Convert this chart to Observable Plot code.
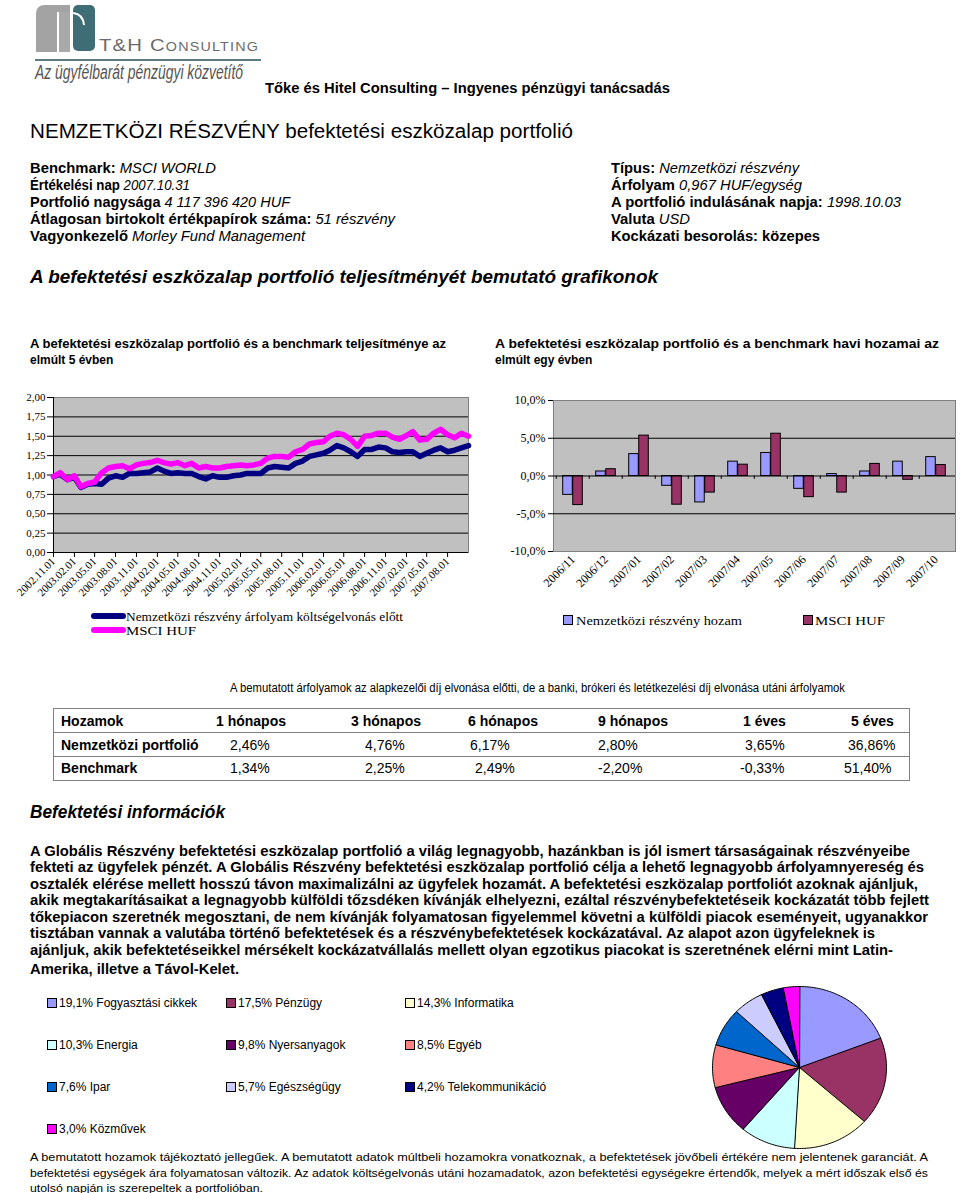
<!DOCTYPE html>
<html><head><meta charset="utf-8">
<script src="https://cdn.jsdelivr.net/npm/d3@7"></script>
<script src="https://cdn.jsdelivr.net/npm/@observablehq/plot@0.6"></script>
<style>
html,body{margin:0;padding:0;background:#fff;}
#page{position:relative;width:960px;height:1193px;overflow:hidden;font-family:"Liberation Sans",Arial,sans-serif;color:#000;}
.t{position:absolute;white-space:nowrap;line-height:1;transform-origin:0 50%;}
.serif{font-family:"Liberation Serif","Times New Roman",serif;}
.abs{position:absolute;}
</style></head><body><div id="page">
<svg class="abs" style="left:0;top:0" width="270" height="90">
  <path d="M36,52 V14 Q36,5 45,5 H57 V52 Z" fill="#a3a3a3"/>
  <rect x="59" y="5" width="11" height="47" fill="#a9a9a9"/>
  <rect x="45" y="5" width="25" height="7" fill="#a3a3a3"/>
  <rect x="73" y="5" width="22" height="46" rx="5" fill="#3f6d75"/>
  <path d="M73,13 Q83,14 84,25" stroke="#fff" stroke-width="2" fill="none"/>
  <line x1="35" y1="60" x2="261" y2="60" stroke="#5d7c82" stroke-width="2"/>
</svg>
</div>
<script>
// ---------- DATA ----------
const lineStart = "2002-11-01", lineEnd = "2007-11-01";
const portfolioIndex = [0.98,1.01,0.94,0.97,0.84,0.88,0.89,0.88,0.96,0.99,0.97,1.02,1.02,1.03,1.04,1.09,1.05,1.02,1.03,1.02,1.02,0.98,0.95,0.99,0.97,0.97,0.99,1.00,1.02,1.02,1.02,1.09,1.11,1.10,1.09,1.15,1.18,1.24,1.26,1.28,1.32,1.38,1.35,1.30,1.24,1.33,1.33,1.36,1.35,1.30,1.29,1.30,1.30,1.24,1.28,1.32,1.35,1.30,1.32,1.35,1.38];
const msciIndex = [0.98,1.03,0.94,0.99,0.85,0.89,0.91,1.03,1.09,1.11,1.12,1.08,1.13,1.15,1.16,1.19,1.16,1.14,1.16,1.12,1.15,1.09,1.11,1.09,1.09,1.11,1.12,1.13,1.12,1.13,1.15,1.22,1.24,1.24,1.23,1.30,1.33,1.40,1.42,1.43,1.50,1.54,1.52,1.46,1.37,1.50,1.51,1.54,1.54,1.49,1.46,1.51,1.56,1.45,1.46,1.54,1.59,1.52,1.48,1.54,1.50];
const lineTickLabels = ["2002.11.01","2003.02.01","2003.05.01","2003.08.01","2003.11.01","2004.02.01","2004.05.01","2004.08.01","2004.11.01","2005.02.01","2005.05.01","2005.08.01","2005.11.01","2006.02.01","2006.05.01","2006.08.01","2006.11.01","2007.02.01","2007.05.01","2007.08.01"];
const lineYTicks = [0,0.25,0.5,0.75,1,1.25,1.5,1.75,2];
const lineSeriesNames = ["Nemzetközi részvény árfolyam költségelvonás előtt","MSCI HUF"];

const barMonths = ["2006/11","2006/12","2007/01","2007/02","2007/03","2007/04","2007/05","2007/06","2007/07","2007/08","2007/09","2007/10"];
const barPortfolio = [-2.5,0.6,2.9,-1.3,-3.5,1.9,3.05,-1.7,0.25,0.6,1.9,2.5];
const barMsci = [-3.85,0.9,5.35,-3.8,-2.2,1.5,5.6,-2.8,-2.2,1.6,-0.5,1.45];
const barYTicks = [-10,-5,0,5,10];
const barSeriesNames = ["Nemzetközi részvény hozam","MSCI HUF"];

const sectorNames = ["Fogyasztási cikkek","Pénzügy","Informatika","Energia","Nyersanyagok","Egyéb","Ipar","Egészségügy","Telekommunikáció","Közművek"];
const sectorShares = [19.1,17.5,14.3,10.3,9.8,8.5,7.6,5.7,4.2,3.0];
const sectorColors = ["#9999FF","#993366","#FFFFCC","#CCFFFF","#660066","#FF8080","#0066CC","#CCCCFF","#000080","#FF00FF"];

const tableHeader = ["Hozamok","1 hónapos","3 hónapos","6 hónapos","9 hónapos","1 éves","5 éves"];
const tablePortfolio = ["Nemzetközi portfolió","2,46%","4,76%","6,17%","2,80%","3,65%","36,86%"];
const tableBenchmark = ["Benchmark","1,34%","2,25%","2,49%","-2,20%","-0,33%","51,40%"];

// ---------- LAYOUT HELPERS ----------
const page = document.getElementById("page");
function T(x, yc, w, fs, html, cls = "", extra = "") {
  const el = document.createElement("div");
  el.className = "t " + cls;
  el.style.cssText = `left:${x}px;top:${yc - 0.49 * fs}px;font-size:${fs}px;${extra}`;
  if (w) el.dataset.w = w;
  el.innerHTML = html;
  page.appendChild(el);
  return el;
}
function box(x, y, w, h, css) {
  const el = document.createElement("div");
  el.className = "abs";
  el.style.cssText = `left:${x}px;top:${y}px;width:${w}px;height:${h}px;${css}`;
  page.appendChild(el);
  return el;
}

// logo texts
T(99, 45, 160, 17, "T&amp;H Consulting", "", "font-variant:small-caps;color:#6a6a6a;letter-spacing:1px;");
T(35, 72, 208, 20, "Az ügyfélbarát pénzügyi közvetítő", "", "font-style:italic;color:#555;");

T(265, 88, 405, 14, "<b>Tőke és Hitel Consulting – Ingyenes pénzügyi tanácsadás</b>");
T(30, 131, 543, 20, "NEMZETKÖZI RÉSZVÉNY befektetési eszközalap portfolió");

T(30,168,186,14,"<b>Benchmark:</b> <i>MSCI WORLD</i>");
T(30,185,160,14,"<b>Értékelési nap</b> <i>2007.10.31</i>");
T(30,202,260,14,"<b>Portfolió nagysága</b> <i>4 117 396 420 HUF</i>");
T(30,219,365,14,"<b>Átlagosan birtokolt értékpapírok száma:</b> <i>51 részvény</i>");
T(30,236,275,14,"<b>Vagyonkezelő</b> <i>Morley Fund Management</i>");
T(611,168,188,14,"<b>Típus:</b> <i>Nemzetközi részvény</i>");
T(611,185,191,14,"<b>Árfolyam</b> <i>0,967 HUF/egység</i>");
T(611,202,290,14,"<b>A portfolió indulásának napja:</b> <i>1998.10.03</i>");
T(611,219,79,14,"<b>Valuta</b> <i>USD</i>");
T(611,236,209,14,"<b>Kockázati besorolás: közepes</b>");

T(30,276,628,19,"<b><i>A befektetési eszközalap portfolió teljesítményét bemutató grafikonok</i></b>");

T(30,344,416,12,"<b>A befektetési eszközalap portfolió és a benchmark teljesítménye az</b>");
T(30,360,null,12,"<b>elmúlt 5 évben</b>");
T(495,344,444,12,"<b>A befektetési eszközalap portfolió és a benchmark havi hozamai az</b>");
T(495,360,null,12,"<b>elmúlt egy évben</b>");

// ---------- LINE CHART ----------
const lineDates = d3.utcMonth.range(new Date(lineStart), new Date(new Date(lineEnd).getTime() + 1));
const lineData = lineDates.map((d, i) => ({date: d, portfolio: portfolioIndex[i], msci: msciIndex[i]}));
const parseTick = d3.utcParse("%Y.%m.%d");
const lineTicks = lineTickLabels.map(parseTick);
const comma = (v, n) => v.toFixed(n).replace(".", ",");

const lineChart = Plot.plot({
  width: 480, height: 260,
  marginLeft: 53, marginRight: 12, marginTop: 17, marginBottom: 88,
  style: {background: "none", fontFamily: "'Liberation Serif','Times New Roman',serif", fontSize: "11px", color: "#000", overflow: "visible"},
  x: {type: "utc", domain: [new Date(lineStart), new Date(lineEnd)], ticks: lineTicks, tickFormat: d3.utcFormat("%Y.%m.%d"), tickRotate: -45, tickSize: 5, tickPadding: 2, label: null},
  y: {domain: [0, 2], ticks: lineYTicks, tickFormat: d => comma(d, 2), tickSize: 6, tickPadding: 2, label: null},
  marks: [
    Plot.frame({fill: "#C0C0C0", stroke: "#808080"}),
    Plot.ruleY(lineYTicks.filter(v => v > 0 && v < 2), {stroke: "#000", strokeWidth: 1}),
    Plot.ruleY([0], {stroke: "#000"}),
    Plot.ruleX([new Date(lineStart)], {stroke: "#000"}),
    Plot.line(lineData, {x: "date", y: "portfolio", stroke: "#000080", strokeWidth: 5.5}),
    Plot.line(lineData, {x: "date", y: "msci", stroke: "#FF00FF", strokeWidth: 5.5})
  ]
});
lineChart.style.position = "absolute"; lineChart.style.left = "0px"; lineChart.style.top = "380px";
page.appendChild(lineChart);

// line legend
box(91, 613, 35, 6, "background:#000080;border-radius:3px;");
box(91, 627, 35, 6, "background:#FF00FF;border-radius:3px;");
T(126, 616, 277, 13, lineSeriesNames[0], "serif");
T(126, 630, 70, 13, lineSeriesNames[1], "serif");

// ---------- BAR CHART ----------
const barData = barMonths.map((m, i) => ({month: m, portfolio: barPortfolio[i], msci: barMsci[i]}));
const barW = 480 - 73 - 5;
const band = barW / barMonths.length;
const barChart = Plot.plot({
  width: 480, height: 260,
  marginLeft: 73, marginRight: 5, marginTop: 20, marginBottom: 89,
  style: {background: "none", fontFamily: "'Liberation Serif','Times New Roman',serif", fontSize: "12px", color: "#000", overflow: "visible"},
  x: {type: "band", domain: barMonths, padding: 0, tickRotate: -45, tickSize: 0, tickPadding: 6, label: null},
  y: {domain: [-10, 10], ticks: barYTicks, tickFormat: d => comma(d, 1) + "%", tickSize: 5, tickPadding: 3, label: null, line: true},
  marks: [
    Plot.frame({fill: "#C0C0C0", stroke: "#808080"}),
    Plot.ruleY([-5, 5], {stroke: "#000"}),
    Plot.barY(barData, {x: "month", y: "portfolio", fill: "#9999FF", stroke: "#000", strokeWidth: 1, insetLeft: band * 0.2, insetRight: band * 0.5}),
    Plot.barY(barData, {x: "month", y: "msci", fill: "#993366", stroke: "#000", strokeWidth: 1, insetLeft: band * 0.5, insetRight: band * 0.2}),
    Plot.ruleY([0], {stroke: "#000"}),
    Plot.ruleX(barData, {x: "month", y1: 0, y2: -0.45, dx: -band / 2, stroke: "#000"})
  ]
});
barChart.style.position = "absolute"; barChart.style.left = "480px"; barChart.style.top = "380px";
page.appendChild(barChart);

box(563, 615, 10, 10, "background:#9999FF;border:1px solid #000;box-sizing:border-box;");
T(576, 620, 166, 13, barSeriesNames[0], "serif");
box(803, 615, 10, 10, "background:#993366;border:1px solid #000;box-sizing:border-box;");
T(815, 620, 70, 13, barSeriesNames[1], "serif");

T(230, 688, 615, 12, "A bemutatott árfolyamok az alapkezelői díj elvonása előtti, de a banki, brókeri és letétkezelési díj elvonása utáni árfolyamok");

// ---------- TABLE ----------
box(53, 708, 857, 73, "border:1px solid #7f7f7f;box-sizing:border-box;");
box(54, 732, 855, 1, "background:#7f7f7f;");
box(54, 756, 855, 1, "background:#7f7f7f;");
const colHeaderX = [61,216,351,468,598,743,851];
const colPortX = [61,230,365,470,598,745,848];
const colBenchX = [61,230,365,475,598,740,844];
tableHeader.forEach((s, i) => T(colHeaderX[i], 721, null, 14, `<b>${s}</b>`));
tablePortfolio.forEach((s, i) => T(colPortX[i], 745, null, 14, i === 0 ? `<b>${s}</b>` : s));
tableBenchmark.forEach((s, i) => T(colBenchX[i], 768, null, 14, i === 0 ? `<b>${s}</b>` : s));

// ---------- INFO TEXT ----------
T(30, 812, 195, 18, "<b><i>Befektetési információk</i></b>");
const para = [
  "A Globális Részvény befektetési eszközalap portfolió a világ legnagyobb, hazánkban is jól ismert társaságainak részvényeibe",
  "fekteti az ügyfelek pénzét. A Globális Részvény befektetési eszközalap portfolió célja a lehető legnagyobb árfolyamnyereség és",
  "osztalék elérése mellett hosszú távon maximalizálni az ügyfelek hozamát. A befektetési eszközalap portfoliót azoknak ajánljuk,",
  "akik megtakarításaikat a legnagyobb külföldi tőzsdéken kívánják elhelyezni, ezáltal részvénybefektetéseik kockázatát több fejlett",
  "tőkepiacon szeretnék megosztani, de nem kívánják folyamatosan figyelemmel követni a külföldi piacok eseményeit, ugyanakkor",
  "tisztában vannak a valutába történő befektetések és a részvénybefektetések kockázatával. Az alapot azon ügyfeleknek is",
  "ajánljuk, akik befektetéseikkel mérsékelt kockázatvállalás mellett olyan egzotikus piacokat is szeretnének elérni mint Latin-",
  "Amerika, illetve a Távol-Kelet."
];
const paraW = [880,894,888,899,898,845,863,209];
const paraY = [851,867,884,900,917,933,950,969];
para.forEach((s, i) => T(30, paraY[i], paraW[i], 14, `<b>${s}</b>`));

// ---------- PIE LEGEND ----------
const legX = [47, 226, 405], legY = [1003, 1045, 1087, 1129];
sectorNames.forEach((n, i) => {
  const cx = legX[i % 3], cy = legY[Math.floor(i / 3)];
  box(cx, cy - 5, 10, 10, `background:${sectorColors[i]};border:1px solid #000;box-sizing:border-box;`);
  T(cx + 12, cy, null, 12, `${comma(sectorShares[i], 1)}% ${n}`);
});

// ---------- PIE ----------
const arcs = d3.pie().sort(null).value(d => d)(sectorShares);
const piePts = [];
arcs.forEach((a, i) => {
  piePts.push({k: i, x: 0, y: 0, c: sectorColors[i]});
  const n = Math.max(2, Math.ceil((a.endAngle - a.startAngle) / 0.02));
  for (let j = 0; j <= n; j++) {
    const t = a.startAngle + (a.endAngle - a.startAngle) * j / n;
    piePts.push({k: i, x: Math.sin(t), y: Math.cos(t), c: sectorColors[i]});
  }
});
const pie = Plot.plot({
  width: 176, height: 164, margin: 1,
  style: {background: "none", overflow: "visible"},
  x: {domain: [-1, 1], axis: null}, y: {domain: [-1, 1], axis: null},
  color: {type: "identity"},
  marks: [Plot.line(piePts, {x: "x", y: "y", z: "k", fill: "c", stroke: "#000", strokeWidth: 1, curve: "linear-closed"})]
});
pie.style.position = "absolute"; pie.style.left = "711px"; pie.style.top = "985px";
page.appendChild(pie);

// ---------- FOOTER ----------
T(30, 1157, 898, 11, "A bemutatott hozamok tájékoztató jellegűek. A bemutatott adatok múltbeli hozamokra vonatkoznak, a befektetések jövőbeli értékére nem jelentenek garanciát. A");
T(30, 1173, 898, 11, "befektetési egységek ára folyamatosan változik. Az adatok költségelvonás utáni hozamadatok, azon befektetési egységekre értendők, melyek a mért időszak első és");
T(30, 1188, 233, 11, "utolsó napján is szerepeltek a portfolióban.");

function fit() {
  document.querySelectorAll("[data-w]").forEach(el => {
    el.style.transform = "";
    const w = el.getBoundingClientRect().width;
    if (w > 0) el.style.transform = `scaleX(${(+el.dataset.w / w).toFixed(4)})`;
  });
}
fit();
if (document.fonts && document.fonts.ready) document.fonts.ready.then(fit);
</script></body></html>
